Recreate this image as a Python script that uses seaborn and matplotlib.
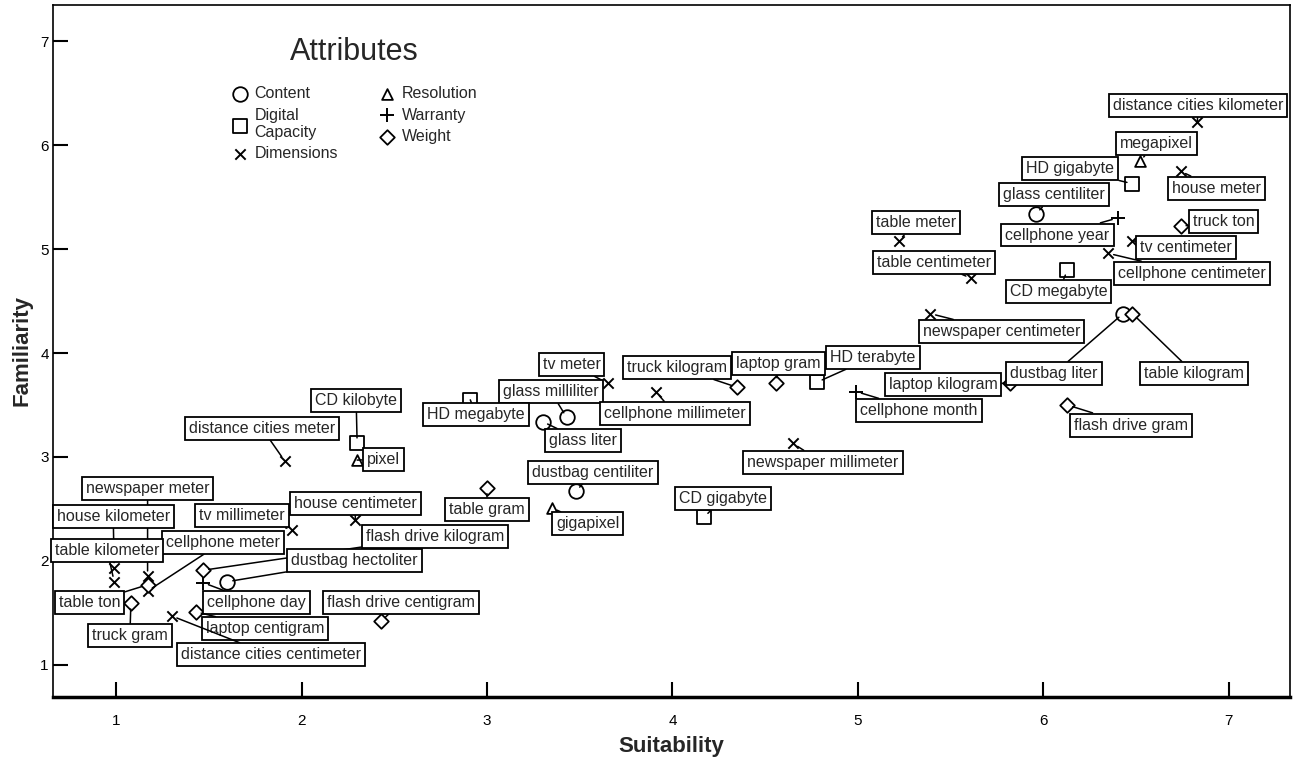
import pandas as pd
import matplotlib
matplotlib.use("Agg")
import matplotlib.pyplot as plt
import seaborn as sns

#--> Concepts, their attribute group and the two ratings
concepts = [
    "distance cities kilometer", "megapixel", "HD gigabyte", "house meter",
    "glass centiliter", "table meter", "truck ton", "cellphone year",
    "tv centimeter", "table centimeter", "cellphone centimeter", "CD megabyte",
    "newspaper centimeter", "HD terabyte", "dustbag liter", "table kilogram",
    "laptop kilogram", "laptop gram", "truck kilogram", "tv meter",
    "glass milliliter", "cellphone millimeter", "cellphone month", "flash drive gram",
    "HD megabyte", "CD kilobyte", "distance cities meter", "glass liter",
    "pixel", "newspaper millimeter", "dustbag centiliter", "CD gigabyte",
    "newspaper meter", "table gram", "house centimeter", "house kilometer",
    "tv millimeter", "gigapixel", "flash drive kilogram", "cellphone meter",
    "table kilometer", "dustbag hectoliter", "table ton", "cellphone day",
    "flash drive centigram", "laptop centigram", "truck gram", "distance cities centimeter",
]
attribute = [
    "Dimensions", "Resolution", "Digital\nCapacity", "Dimensions",
    "Content", "Dimensions", "Weight", "Warranty",
    "Dimensions", "Dimensions", "Dimensions", "Digital\nCapacity",
    "Dimensions", "Digital\nCapacity", "Content", "Weight",
    "Weight", "Weight", "Weight", "Dimensions",
    "Content", "Dimensions", "Warranty", "Weight",
    "Digital\nCapacity", "Digital\nCapacity", "Dimensions", "Content",
    "Resolution", "Dimensions", "Content", "Digital\nCapacity",
    "Dimensions", "Weight", "Dimensions", "Dimensions",
    "Dimensions", "Resolution", "Weight", "Dimensions",
    "Dimensions", "Content", "Weight", "Warranty",
    "Weight", "Weight", "Weight", "Dimensions",
]
suitability = [
    6.83, 6.52, 6.48, 6.74, 5.96, 5.22, 6.74, 6.40,
    6.48, 5.61, 6.35, 6.13, 5.39, 4.78, 6.43, 6.48,
    5.82, 4.56, 4.35, 3.65, 3.43, 3.91, 4.99, 6.13,
    2.91, 2.30, 1.91, 3.30, 2.30, 4.65, 3.48, 4.17,
    1.17, 3.00, 2.29, 0.99, 1.95, 3.35, 1.47, 1.17,
    0.99, 1.60, 1.17, 1.47, 2.43, 1.43, 1.08, 1.30,
]
familiarity = [
    6.22, 5.85, 5.63, 5.75, 5.34, 5.08, 5.22, 5.30,
    5.08, 4.72, 4.96, 4.80, 4.38, 3.72, 4.38, 4.38,
    3.71, 3.71, 3.67, 3.71, 3.38, 3.63, 3.63, 3.50,
    3.55, 3.13, 2.96, 3.34, 2.97, 3.13, 2.67, 2.42,
    1.85, 2.70, 2.39, 1.93, 2.30, 2.51, 1.91, 1.71,
    1.80, 1.80, 1.77, 1.79, 1.42, 1.51, 1.59, 1.47,
]

#--> Label offsets (pixels) of each text box from its point
label_offsets = [
    (1, 17), (17, 17), (-62, 15), (36, -17), (18, 19), (17, 18), (43, 5), (-60, -17),
    (54, -7), (-37, 16), (84, -20), (-9, -22), (71, -18), (56, 25), (-69, -60), (62, -60),
    (-67, -1), (2, 20), (-60, 20), (-36, 19), (-16, 26), (19, -22), (63, -19), (64, -20),
    (6, -15), (-1, 43), (-23, 33), (40, -19), (26, 1), (30, -19), (17, 19), (19, 19),
    (0, 88), (0, -21), (0, 17), (-1, 52), (-50, 14), (36, -16), (232, 34), (75, 49),
    (-7, 31), (127, 21), (-58, -18), (53, -20), (20, 19), (69, -17), (-1, -32), (99, -39),
]

df = pd.DataFrame({"concept": concepts, "attribute": attribute,
                   "Suitability": suitability, "Familiarity": familiarity})

sns.set_style("white")
plt.rcParams["font.family"] = ["Liberation Sans", "DejaVu Sans"]

fig = plt.figure(figsize=(12.96, 7.65), dpi=100)
ax = fig.add_axes([53 / 1296, 68 / 765, 1237 / 1296, 692 / 765])

#-> marker per attribute group (open shapes + line markers)
groups = ["Content", "Digital\nCapacity", "Dimensions", "Resolution", "Warranty", "Weight"]
markers = {"Content": ("o", 110), "Digital\nCapacity": ("s", 110), "Dimensions": ("x", 55),
           "Resolution": ("^", 60), "Warranty": ("+", 110), "Weight": ("D", 55)}

for g in groups:
    m, s = markers[g]
    sub = df[df["attribute"] == g]
    if m in ("x", "+"):
        sns.scatterplot(data=sub, x="Suitability", y="Familiarity", marker=m, s=s,
                        color="black", linewidth=1.4, label=g, ax=ax, zorder=3)
    else:
        sns.scatterplot(data=sub, x="Suitability", y="Familiarity", marker=m, s=s,
                        facecolor="white", edgecolor="black", linewidth=1.3,
                        label=g, ax=ax, zorder=3)

#-> boxed labels with leader lines
for i, row in df.iterrows():
    dx, dy = label_offsets[i]
    ax.annotate(row["concept"], xy=(row["Suitability"], row["Familiarity"]),
                xytext=(dx, dy), textcoords="offset pixels",
                ha="center", va="center", fontsize=11.5, zorder=4,
                bbox=dict(boxstyle="square,pad=0.25", fc="white", ec="black", lw=1.3),
                arrowprops=dict(arrowstyle="-", color="black", lw=1.1,
                                shrinkA=0, shrinkB=4))

ax.set_xlim(0.66, 7.33)
ax.set_ylim(0.69, 7.35)
ax.set_xticks(range(1, 8))
ax.set_yticks(range(1, 8))
ax.tick_params(bottom=True, left=True, direction="in", length=11, width=1.5,
               labelsize=11, colors="black")
ax.tick_params(axis="x", pad=12)
ax.tick_params(axis="y", pad=3)
for side in ["top", "right", "left"]:
    ax.spines[side].set_color("black")
    ax.spines[side].set_linewidth(1.2)
ax.spines["bottom"].set_color("black")
ax.spines["bottom"].set_linewidth(2.5)

ax.set_xlabel("Suitability", fontsize=16, fontweight="bold", labelpad=6)
ax.set_ylabel("Familiarity", fontsize=16, fontweight="bold", labelpad=6)

leg = ax.legend(title="Attributes", ncol=2, loc="upper left",
                bbox_to_anchor=(0.133, 0.975), frameon=False, fontsize=11.5,
                title_fontsize=22, handletextpad=0.4, columnspacing=2.6,
                labelspacing=0.4, markerscale=1.0, handlelength=1.0)
leg._legend_box.align = "center"
leg._legend_box.sep = 14

fig.savefig("out.png", dpi=100)
